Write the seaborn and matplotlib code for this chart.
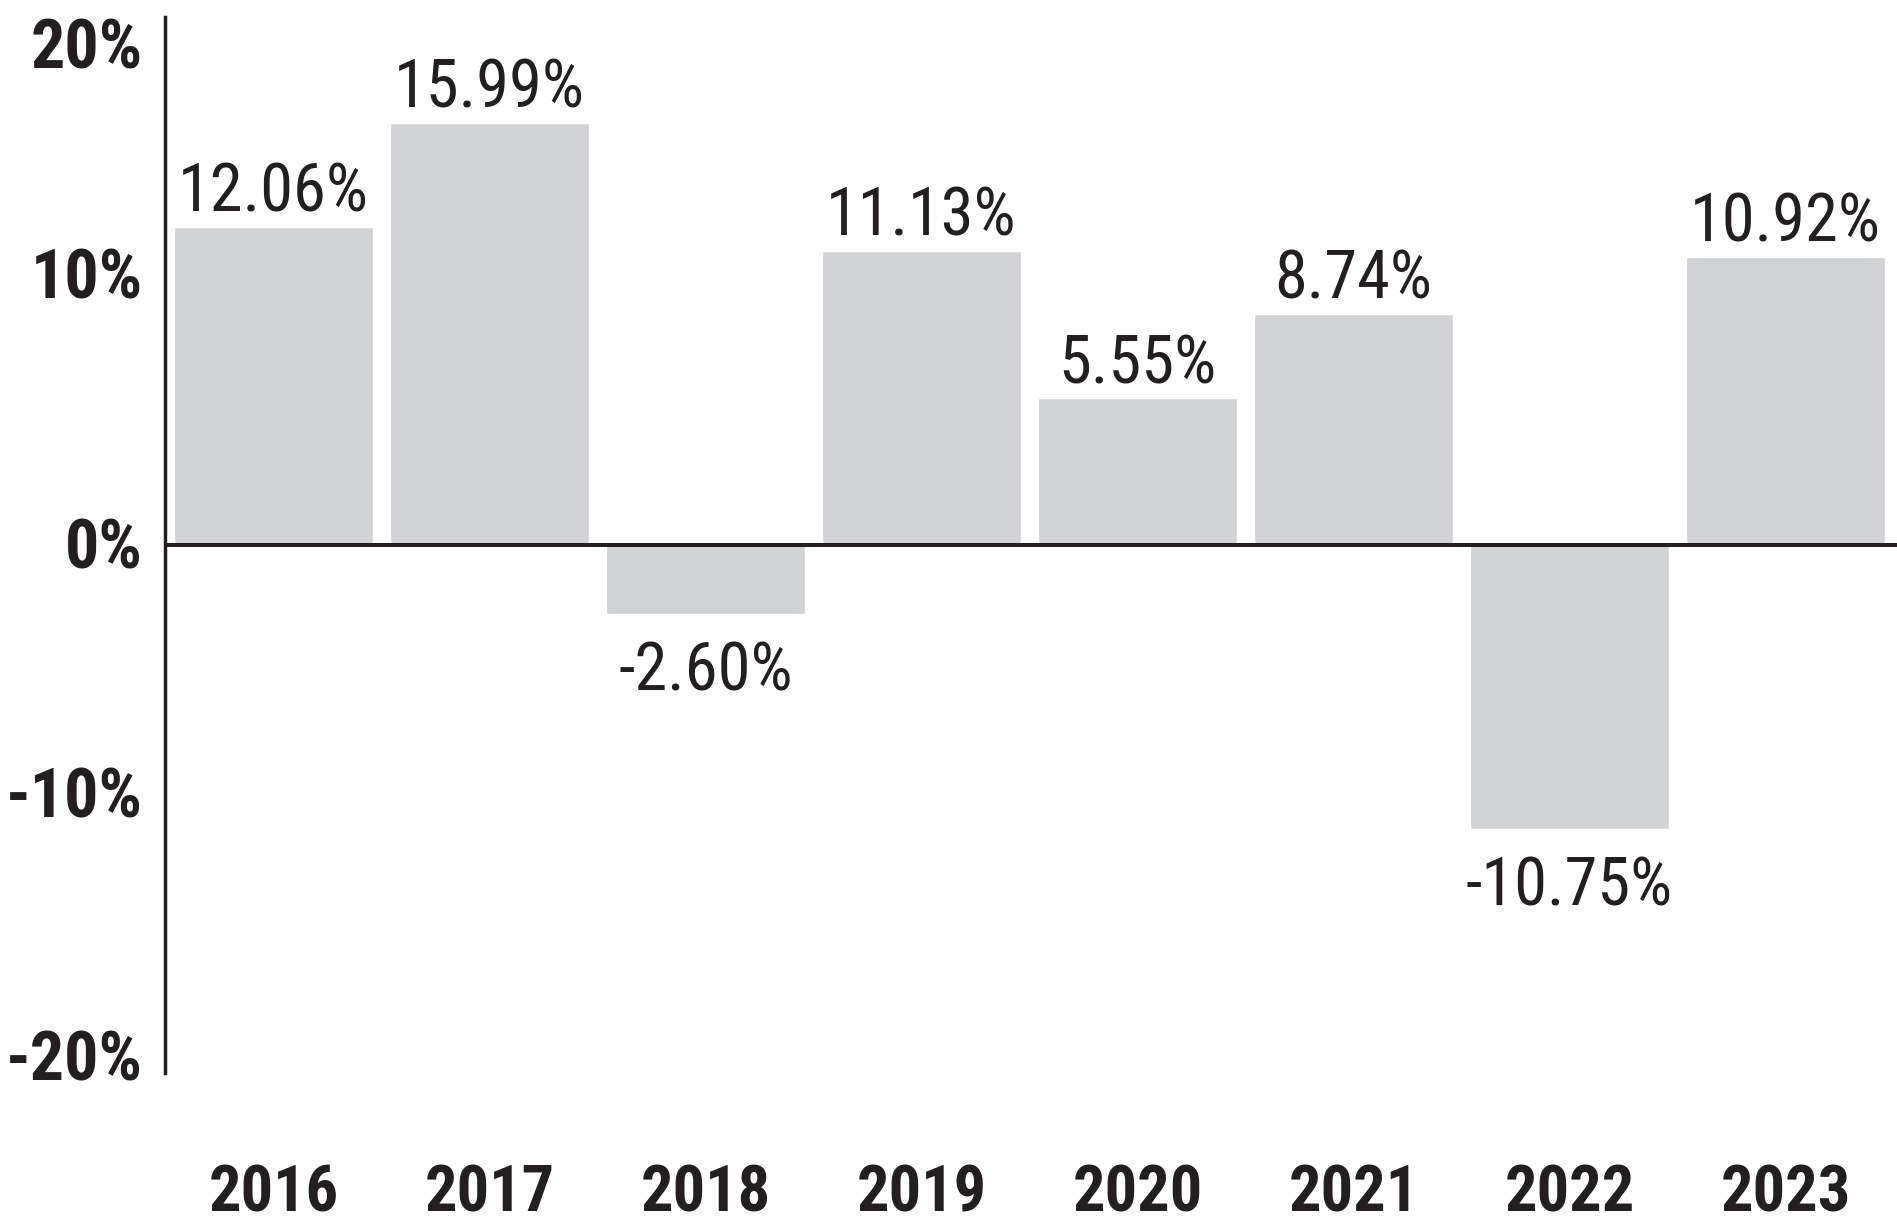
import matplotlib
matplotlib.use("Agg")
import matplotlib.pyplot as plt
from matplotlib import font_manager
from matplotlib.transforms import ScaledTranslation
import seaborn as sns

# data
years = ["2016", "2017", "2018", "2019", "2020", "2021", "2022", "2023"]
returns = [12.06, 15.99, -2.60, 11.13, 5.55, 8.74, -10.75, 10.92]
ytick_vals = [20, 10, 0, -10, -20]
ytick_labels = ["20%", "10%", "0%", "-10%", "-20%"]

bar_color = "#D1D3D4"
ink = "#231F20"

sns.set_style("white")

# pick a narrow sans if one is around, else fall back to Liberation Sans
fonts = [(f.name, str(f.stretch)) for f in font_manager.fontManager.ttflist]
names = {n for n, s in fonts}
family, stretch = "Liberation Sans", "normal"
for cand in ["Liberation Sans Narrow", "Roboto Condensed", "Open Sans Condensed",
             "Noto Sans Condensed", "DejaVu Sans Condensed"]:
    if cand in names:
        family, stretch = cand, "normal"
        break
else:
    for cand in ["Noto Sans", "Roboto", "DejaVu Sans"]:
        if (cand, "condensed") in fonts:
            family, stretch = cand, "condensed"
            break
plt.rcParams["font.family"] = [family, "DejaVu Sans"]
font_kw = dict(family=[family, "DejaVu Sans"], stretch=stretch)

fig = plt.figure(figsize=(18.97, 12.24), dpi=100)
ax = fig.add_axes([0.087, 0.1234, 0.913, 0.8627])


def fit_size(text, target_px, max_pt, weight="normal"):
    # shrink a font size so the text is no wider than in the reference
    t = fig.text(0, 0, text, fontsize=100, fontweight=weight, **font_kw)
    w = t.get_window_extent(renderer=fig.canvas.get_renderer()).width
    t.remove()
    return min(max_pt, 100 * target_px / w)


val_size = fit_size("12.06%", 191, 52)
year_size = fit_size("2016", 130, 50, "bold")
ytick_size = fit_size("-20%", 137, 49, "bold")

sns.barplot(x=years, y=returns, color=bar_color, saturation=1, width=0.921, ax=ax)

ax.axhline(0, color=ink, lw=2.9, zorder=5)

ax.set_xlim(-0.502, 7.516)
ax.set_ylim(-20, 20)

# value labels
for i, v in enumerate(returns):
    if v >= 0:
        ax.annotate(f"{v:.2f}%", (i, v), xytext=(0, 11), textcoords="offset points",
                    ha="center", va="baseline", fontsize=val_size, color=ink, **font_kw)
    else:
        ax.annotate(f"{v:.2f}%", (i, v), xytext=(0, -19), textcoords="offset points",
                    ha="center", va="top", fontsize=val_size, color=ink, **font_kw)

ax.set_yticks(ytick_vals)
ax.set_yticklabels(ytick_labels, fontsize=ytick_size, fontweight="bold", color=ink, **font_kw)
ax.set_xticks(range(len(years)))
ax.set_xticklabels(years, fontsize=year_size, fontweight="bold", color=ink, **font_kw)
ax.tick_params(axis="y", length=0, pad=16)
ax.tick_params(axis="x", length=0, pad=65)

# the reference nudges its y labels a little off their ticks
ylabels = ax.get_yticklabels()
ylabels[0].set_va("top")
for lab, dy in zip(ylabels[1:], [6, 1.5, 12, 13]):
    lab.set_transform(lab.get_transform() + ScaledTranslation(0, dy / 72, fig.dpi_scale_trans))

ax.set_xlabel("")
ax.set_ylabel("")
for side in ["top", "right", "bottom"]:
    ax.spines[side].set_visible(False)
ax.spines["left"].set_color(ink)
ax.spines["left"].set_linewidth(2.5)
ax.grid(False)

fig.savefig("out.png", dpi=100)
